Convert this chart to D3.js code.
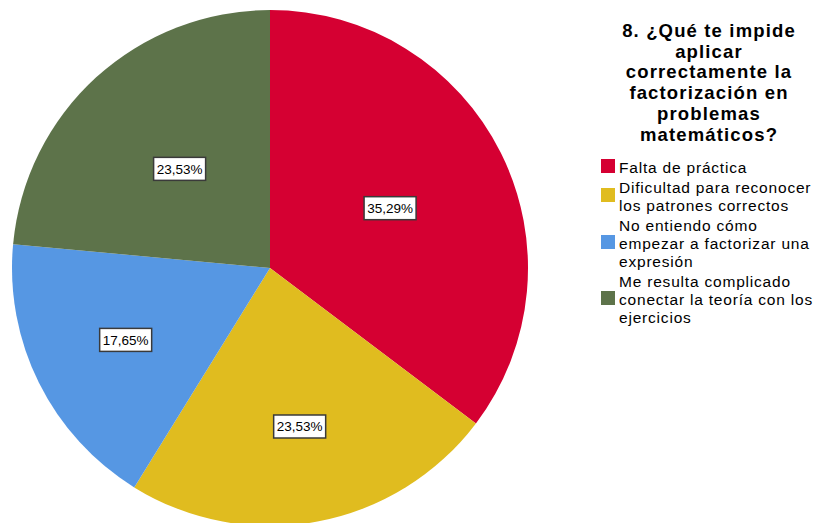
<!DOCTYPE html>
<html>
<head>
<meta charset="utf-8">
<script src="https://cdn.jsdelivr.net/npm/d3@7"></script>
<style>
  html, body { margin: 0; padding: 0; background: #fff; }
  svg { display: block; }
</style>
</head>
<body>
<svg id="chart" width="816" height="523"></svg>
<script>
// Responses to question 8, share of respondents (%)
const categories = [
  "Falta de práctica",
  "Dificultad para reconocer los patrones correctos",
  "No entiendo cómo empezar a factorizar una expresión",
  "Me resulta complicado conectar la teoría con los ejercicios"
];
const percentages = [35.29, 23.53, 17.65, 23.53];
const legendLines = [
  ["Falta de práctica"],
  ["Dificultad para reconocer", "los patrones correctos"],
  ["No entiendo cómo", "empezar a factorizar una", "expresión"],
  ["Me resulta complicado", "conectar la teoría con los", "ejercicios"]
];
const titleLines = [
  "8. ¿Qué te impide",
  "aplicar",
  "correctamente la",
  "factorización en",
  "problemas",
  "matemáticos?"
];
const colors = ["#D50032", "#E0BC1F", "#5697E3", "#5D734A"];

const svg = d3.select("#chart");
const font = "'Liberation Sans', Arial, sans-serif";

// Pie
const cx = 270, cy = 268, R = 258;
const color = d3.scaleOrdinal().domain(categories).range(colors);
const pie = d3.pie().sort(null).value(d => d.value).startAngle(0).endAngle(2 * Math.PI);
const data = categories.map((c, i) => ({ category: c, value: percentages[i] }));
const arcs = pie(data);
const arc = d3.arc().innerRadius(0).outerRadius(R);

const g = svg.append("g").attr("transform", `translate(${cx},${cy})`);
g.selectAll("path.slice")
  .data(arcs)
  .join("path")
  .attr("class", "slice")
  .attr("d", arc)
  .attr("fill", d => color(d.data.category));

// Percentage labels in white boxes
const fmt = v => v.toFixed(2).replace(".", ",") + "%";
const labels = g.selectAll("g.label")
  .data(arcs)
  .join("g")
  .attr("class", "label")
  .attr("transform", d => {
    const mid = (d.startAngle + d.endAngle) / 2;
    const down = -Math.cos(mid) > 0;
    const r = R * (down ? 0.625 : 0.52);
    return `translate(${r * Math.sin(mid)},${-r * Math.cos(mid)})`;
  });
labels.append("rect")
  .attr("x", -26).attr("y", -11.5)
  .attr("width", 52).attr("height", 23)
  .attr("fill", "#fff")
  .attr("stroke", "#3a3a3a")
  .attr("stroke-width", 1.5);
labels.append("text")
  .attr("text-anchor", "middle")
  .attr("dy", "0.36em")
  .attr("font-family", font)
  .attr("font-size", 13.5)
  .attr("fill", "#000")
  .text(d => fmt(d.data.value));

// Legend title
const titleX = 709;
svg.append("text")
  .attr("font-family", font)
  .attr("font-weight", "bold")
  .attr("font-size", 18.5)
  .attr("letter-spacing", 1.15)
  .attr("text-anchor", "middle")
  .attr("fill", "#000")
  .selectAll("tspan")
  .data(titleLines)
  .join("tspan")
  .attr("x", titleX)
  .attr("y", (d, i) => 37 + i * 20.7)
  .text(d => d);

// Legend entries
const lineH = 18, itemGap = 2;
let y = 173;
const legend = svg.append("g");
legendLines.forEach((lines, i) => {
  const first = y, last = y + (lines.length - 1) * lineH;
  legend.append("rect")
    .attr("x", 601)
    .attr("y", (first + last) / 2 - 7 - 7)
    .attr("width", 14).attr("height", 14)
    .attr("fill", color(categories[i]));
  legend.append("text")
    .attr("font-family", font)
    .attr("font-size", 15.5)
    .attr("letter-spacing", 0.8)
    .attr("fill", "#000")
    .selectAll("tspan")
    .data(lines)
    .join("tspan")
    .attr("x", 619)
    .attr("y", (d, j) => first + j * lineH)
    .text(d => d);
  y = last + lineH + itemGap;
});
</script>
</body>
</html>
